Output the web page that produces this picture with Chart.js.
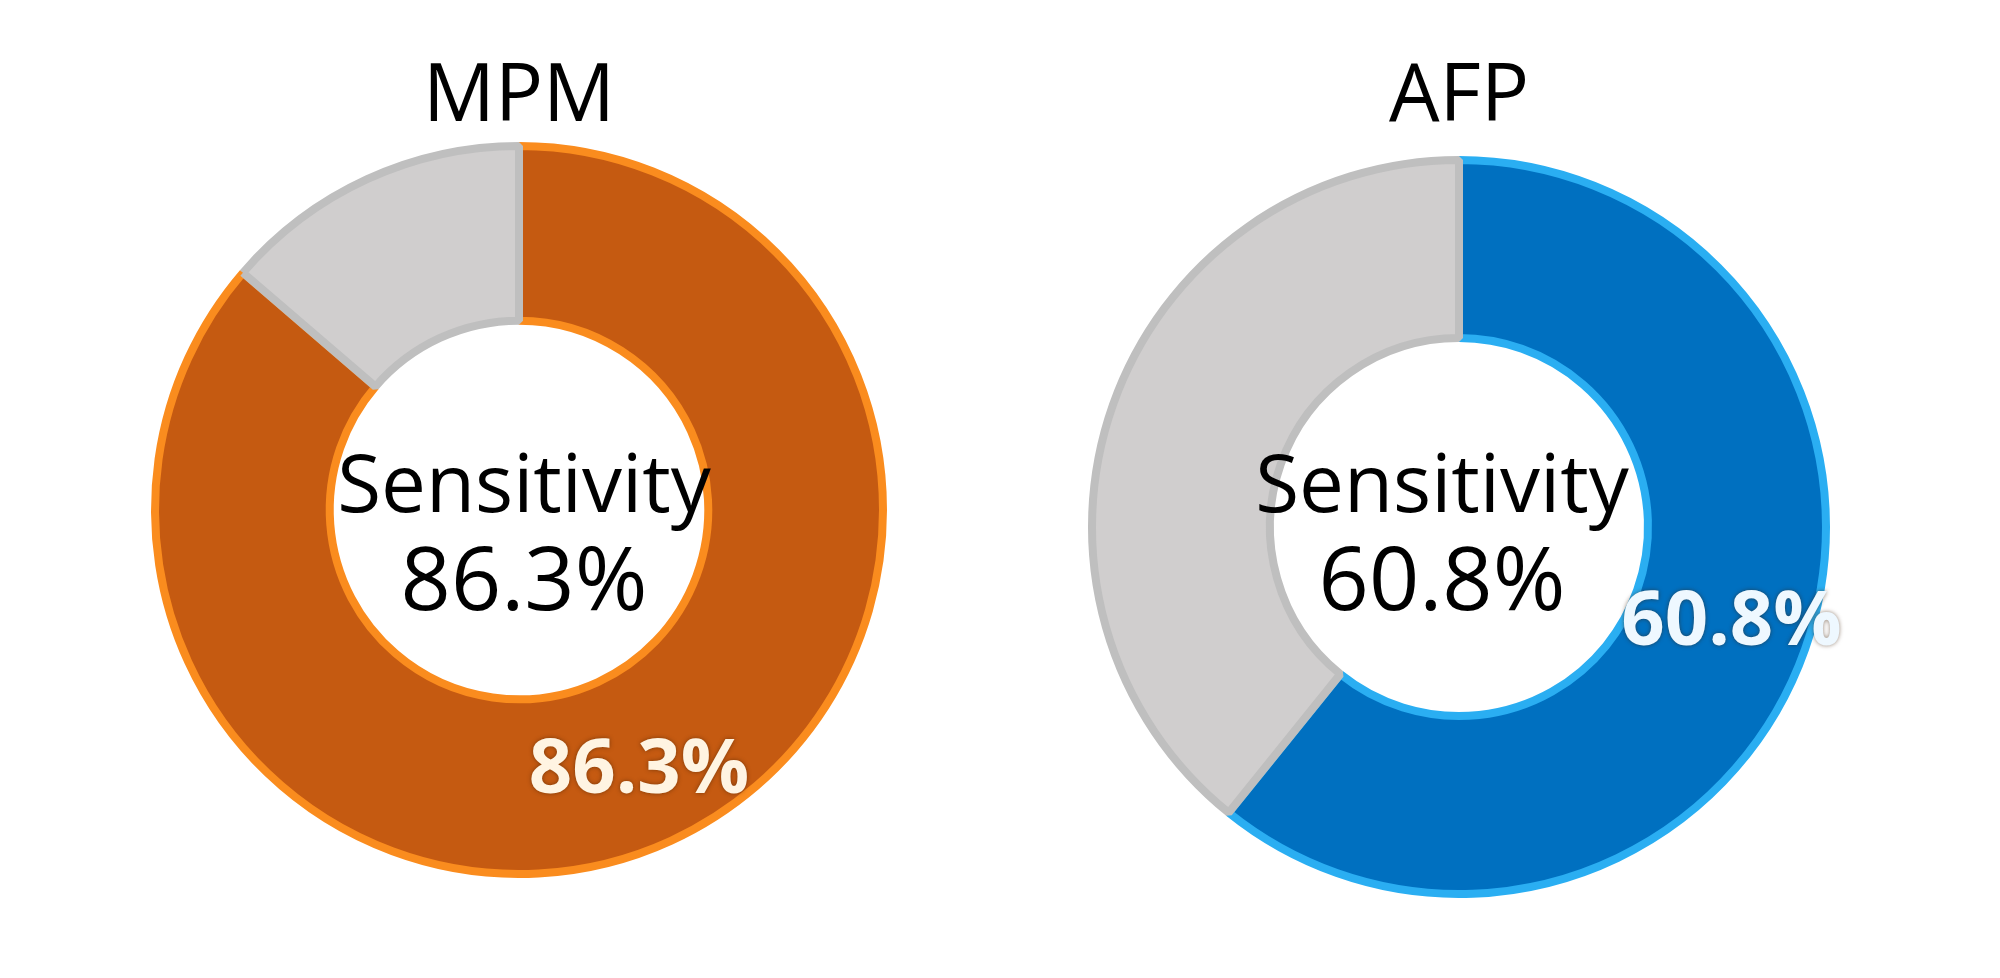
<!DOCTYPE html>
<html>
<head>
<meta charset="utf-8">
<title>Sensitivity MPM vs AFP</title>
<script src="https://cdn.jsdelivr.net/npm/chart.js@4.4.1/dist/chart.umd.min.js"></script>
<style>
    html, body { margin: 0; padding: 0; background: #ffffff; }
    body { width: 2000px; height: 978px; position: relative; overflow: hidden; }
    .box { position: absolute; top: 0; width: 1000px; height: 978px; }
    #boxMpm { left: 19px; }
    #boxAfp { left: 959px; }
</style>
</head>
<body>
<div class="box" id="boxMpm"><canvas id="chartMpm"></canvas></div>
<div class="box" id="boxAfp"><canvas id="chartAfp"></canvas></div>
<script>

const markers = ["MPM", "AFP"];
const categories = ["Detected", "Missed"];
const sensitivity = [86.3, 60.8];
const missed = [13.7, 39.2];
const centerTitle = "Sensitivity";

// look of each ring (left MPM, right AFP)
const looks = [
    {
        canvas: "chartMpm",
        fill: ["#C55A11", "#D0CECE"],
        edge: ["#FA8C1E", "#BFBFBF"],
        labelColor: "#FFF4E2",
        radius: 364,
        cutout: "52%",
        padBottom: 104,
        textDx: 5,
        textDy: 2
    },
    {
        canvas: "chartAfp",
        fill: ["#0070C0", "#D0CECE"],
        edge: ["#2AAEF2", "#BFBFBF"],
        labelColor: "#EEF8FF",
        radius: 367,
        cutout: "51.5%",
        padBottom: 70,
        textDx: -17,
        textDy: -15
    }
];

const centerTextPlugin = {
    id: "centerText",
    afterDatasetsDraw(chart, args, opts) {
        const arc = chart.getDatasetMeta(0).data[0];
        if (!arc) {
            return;
        }
        const ctx = chart.ctx;
        const x = arc.x + opts.dx;
        const y = arc.y + opts.dy;
        ctx.save();
        ctx.fillStyle = "#000000";
        ctx.textAlign = "center";
        ctx.textBaseline = "alphabetic";
        ctx.font = "80px 'Open Sans'";
        ctx.fillText(opts.title, x, y);
        ctx.font = "88px 'Open Sans'";
        ctx.fillText(opts.value, x, y + 98);
        ctx.restore();
    }
};

const sliceLabelPlugin = {
    id: "sliceLabel",
    afterDatasetsDraw(chart, args, opts) {
        const arc = chart.getDatasetMeta(0).data[0];
        if (!arc) {
            return;
        }
        const pos = arc.tooltipPosition();
        const mid = (arc.startAngle + arc.endAngle) / 2;
        const value = chart.data.datasets[0].data[0];
        const ctx = chart.ctx;
        ctx.save();
        ctx.font = "bold 76px 'Open Sans'";
        ctx.textAlign = "center";
        ctx.textBaseline = "middle";
        ctx.shadowColor = "rgba(60, 30, 0, 0.55)";
        ctx.shadowBlur = 4;
        ctx.fillStyle = opts.color;
        ctx.fillText(value.toFixed(1) + "%", pos.x + Math.cos(mid) * 11, pos.y + Math.sin(mid) * 11);
        ctx.restore();
    }
};

function renderRing(i) {

    const look = looks[i];
    const canvas = document.getElementById(look.canvas);

    return new Chart(canvas, {

        type: "doughnut",

        data: {
            labels: categories,
            datasets: [
                {
                    data: [sensitivity[i], missed[i]],
                    backgroundColor: look.fill,
                    borderColor: look.edge,
                    borderWidth: 8
                }
            ]
        },

        options: {
            responsive: true,
            maintainAspectRatio: false,
            animation: false,
            radius: look.radius,
            cutout: look.cutout,
            layout: {
                padding: { bottom: look.padBottom }
            },
            plugins: {
                legend: { display: false },
                tooltip: { enabled: false },
                title: {
                    display: true,
                    text: markers[i],
                    color: "#000000",
                    font: { family: "'Open Sans'", size: 80, weight: "normal", lineHeight: 1.2 },
                    padding: { top: 50, bottom: 0 }
                },
                centerText: {
                    title: centerTitle,
                    value: sensitivity[i].toFixed(1) + "%",
                    dx: look.textDx,
                    dy: look.textDy
                },
                sliceLabel: {
                    color: look.labelColor
                }
            }
        },

        plugins: [centerTextPlugin, sliceLabelPlugin]

    });

}

markers.forEach((m, i) => renderRing(i));

</script>
</body>
</html>
